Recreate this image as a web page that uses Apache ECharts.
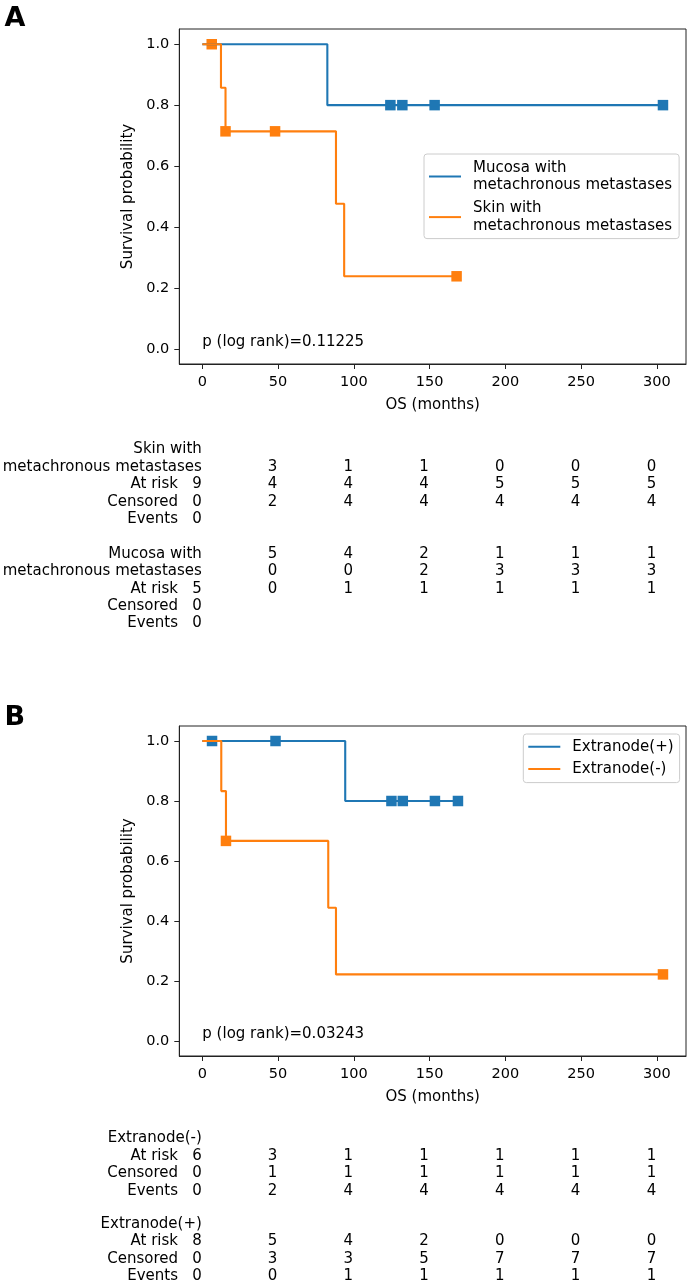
<!DOCTYPE html>
<html><head><meta charset="utf-8">
<script src="https://cdn.jsdelivr.net/npm/echarts@6/dist/echarts.min.js"></script>
<style>html,body{margin:0;padding:0;background:#fff}#c{width:691px;height:1284px}</style>
</head><body><div id="c"></div><script>
// ---------------- data ----------------
const xTicks = [0, 50, 100, 150, 200, 250, 300];
const yTicks = [0, 0.2, 0.4, 0.6, 0.8, 1.0];

// Panel A
const aMucosaName = 'Mucosa with\nmetachronous metastases';
const aMucosaT = [0, 82.5, 304];
const aMucosaS = [1.0, 0.8, 0.8];
const aMucosaCensT = [124.1, 132.0, 153.3, 304];
const aMucosaCensS = [0.8, 0.8, 0.8, 0.8];

const aSkinName = 'Skin with\nmetachronous metastases';
const aSkinT = [0, 12.3, 15.3, 88.2, 93.6, 167.8];
const aSkinS = [1.0, 0.857, 0.714, 0.476, 0.238, 0.238];
const aSkinCensT = [6.2, 15.3, 48.0, 167.8];
const aSkinCensS = [1.0, 0.714, 0.714, 0.238];

const aPText = 'p (log rank)=0.11225';

// Panel B
const bPlusName = 'Extranode(+)';
const bPlusT = [0, 94.3, 168.7];
const bPlusS = [1.0, 0.8, 0.8];
const bPlusCensT = [6.4, 48.3, 124.8, 132.3, 153.5, 168.7];
const bPlusCensS = [1.0, 1.0, 0.8, 0.8, 0.8, 0.8];

const bMinusName = 'Extranode(-)';
const bMinusT = [0, 12.5, 15.6, 83.1, 88.2, 304];
const bMinusS = [1.0, 0.833, 0.667, 0.444, 0.222, 0.222];
const bMinusCensT = [15.6, 304];
const bMinusCensS = [0.667, 0.222];

const bPText = 'p (log rank)=0.03243';

// At-risk tables (as printed: row label, value at 0, values at 50..300)
const tableCols = [50, 100, 150, 200, 250, 300];
const tA1Labels = ['Skin with', 'metachronous metastases', 'At risk', 'Censored', 'Events'];
const tA1First  = ['', '', '9', '0', '0'];
const tA1Vals   = [null, [3,1,1,0,0,0], [4,4,4,5,5,5], [2,4,4,4,4,4], null];
const tA2Labels = ['Mucosa with', 'metachronous metastases', 'At risk', 'Censored', 'Events'];
const tA2First  = ['', '', '5', '0', '0'];
const tA2Vals   = [[5,4,2,1,1,1], [0,0,2,3,3,3], [0,1,1,1,1,1], null, null];

const tB1Labels = ['Extranode(-)', 'At risk', 'Censored', 'Events'];
const tB1First  = ['', '6', '0', '0'];
const tB1Vals   = [null, [3,1,1,1,1,1], [1,1,1,1,1,1], [2,4,4,4,4,4]];
const tB2Labels = ['Extranode(+)', 'At risk', 'Censored', 'Events'];
const tB2First  = ['', '8', '0', '0'];
const tB2Vals   = [null, [5,4,2,0,0,0], [3,3,5,7,7,7], [0,1,1,1,1,1]];

// ---------------- chart ----------------
const FONT = 'DejaVu Sans';
const BLUE = '#1f77b4', ORANGE = '#ff7f0e', AX = '#222';
const zip = (t, s) => t.map((v, i) => [v, s[i]]);

const chart = echarts.init(document.getElementById('c'), null, {renderer: 'canvas'});

function xAxisDef(gi) {
  return {
    type: 'value', gridIndex: gi, min: -15.2, max: 319.2, position: 'bottom',
    name: 'OS (months)', nameLocation: 'middle', nameGap: 34,
    nameTextStyle: {fontFamily: FONT, fontSize: 15, color: '#000'},
    axisLine: {show: true, onZero: false, lineStyle: {color: AX, width: 1}},
    axisTick: {show: true, length: 5, lineStyle: {color: AX, width: 1}, customValues: xTicks},
    axisLabel: {fontFamily: FONT, fontSize: 14.5, color: '#000', margin: 11, customValues: xTicks},
    splitLine: {show: false}
  };
}
function yAxisDef(gi) {
  return {
    type: 'value', gridIndex: gi, min: -0.05, max: 1.05, position: 'left',
    name: 'Survival probability', nameLocation: 'middle', nameGap: 38.5,
    nameTextStyle: {fontFamily: FONT, fontSize: 15, color: '#000'},
    axisLine: {show: true, onZero: false, lineStyle: {color: AX, width: 1}},
    axisTick: {show: true, length: 5, lineStyle: {color: AX, width: 1}, customValues: yTicks},
    axisLabel: {fontFamily: FONT, fontSize: 14.5, color: '#000', margin: 10, customValues: yTicks,
      formatter: v => Number(v).toFixed(1)},
    splitLine: {show: false}
  };
}
function lineSeries(name, t, s, color, gi) {
  return {type: 'line', name, xAxisIndex: gi, yAxisIndex: gi, data: zip(t, s), step: 'end',
    showSymbol: false, symbol: 'none', color, lineStyle: {color, width: 2.1}, silent: true};
}
function censSeries(name, t, s, color, gi) {
  return {type: 'scatter', name, xAxisIndex: gi, yAxisIndex: gi, data: zip(t, s),
    symbol: 'rect', symbolSize: 10.5, itemStyle: {color, opacity: 1}, silent: true};
}
function legendDef(names, left, top, padding, itemGap, lh) {
  return {
    data: names, orient: 'vertical', left, top, padding, itemGap,
    itemWidth: 32, itemHeight: 2, icon: 'rect', selectedMode: false,
    backgroundColor: 'rgba(255,255,255,0.8)', borderColor: '#cccccc', borderWidth: 1, borderRadius: 3,
    textStyle: {fontFamily: FONT, fontSize: 15, color: '#000', lineHeight: lh, padding: [0, 0, 0, 7]}
  };
}

chart.setOption({
  animation: false,
  grid: [
    {left: 179.3, top: 29, width: 506.7, height: 335, show: true, borderColor: AX, borderWidth: 1, backgroundColor: 'transparent'},
    {left: 179.3, top: 726, width: 506.7, height: 330, show: true, borderColor: AX, borderWidth: 1, backgroundColor: 'transparent'}
  ],
  xAxis: [xAxisDef(0), xAxisDef(1)],
  yAxis: [yAxisDef(0), yAxisDef(1)],
  legend: [
    legendDef([aMucosaName, aSkinName], 424, 154, [5, 7, 4, 5], 5.6, 17.5),
    legendDef([bPlusName, bMinusName], 523.3, 734, [4, 6, 5, 5], 5, 17.3)
  ],
  series: [
    lineSeries(aMucosaName, aMucosaT, aMucosaS, BLUE, 0),
    censSeries('A mucosa censored', aMucosaCensT, aMucosaCensS, BLUE, 0),
    lineSeries(aSkinName, aSkinT, aSkinS, ORANGE, 0),
    censSeries('A skin censored', aSkinCensT, aSkinCensS, ORANGE, 0),
    lineSeries(bPlusName, bPlusT, bPlusS, BLUE, 1),
    censSeries('B plus censored', bPlusCensT, bPlusCensS, BLUE, 1),
    lineSeries(bMinusName, bMinusT, bMinusS, ORANGE, 1),
    censSeries('B minus censored', bMinusCensT, bMinusCensS, ORANGE, 1)
  ]
});

// ---------------- texts placed through the axes ----------------
const g = [];
const txt = (x, y, text, align, extra) => g.push({type: 'text', x, y,
  style: Object.assign({text, fill: '#000', font: '15px "' + FONT + '"', textAlign: align, textVerticalAlign: 'middle'}, extra || {})});

// panel letters
g.push({type: 'text', x: 4.5, y: 18.5, style: {text: 'A', fill: '#000', font: 'bold 27px "DejaVu Sans"', textAlign: 'left', textVerticalAlign: 'middle'}});
g.push({type: 'text', x: 4.5, y: 717.5, style: {text: 'B', fill: '#000', font: 'bold 27px "DejaVu Sans"', textAlign: 'left', textVerticalAlign: 'middle'}});

// p-values
const pA = chart.convertToPixel({gridIndex: 0}, [0, 0]);
const pB = chart.convertToPixel({gridIndex: 1}, [0, 0]);
txt(pA[0], pA[1] - 6.5, aPText, 'left');
txt(pB[0], pB[1] - 6.5, bPText, 'left');

function table(gi, labels, first, vals, y0, step) {
  const x0 = chart.convertToPixel({xAxisIndex: gi}, 0);
  labels.forEach((lab, i) => {
    const y = y0 + i * step;
    if (first[i] === '') {
      txt(x0 - 0.5, y, lab, 'right');
    } else {
      txt(x0 - 24.3, y, lab, 'right');
      txt(x0 - 0.5, y, first[i], 'right');
    }
    if (vals[i]) {
      vals[i].forEach((v, j) => {
        const xp = chart.convertToPixel({xAxisIndex: gi}, tableCols[j]);
        txt(xp - 5.5, y, String(v), 'center');
      });
    }
  });
}
table(0, tA1Labels, tA1First, tA1Vals, 449.5, 17.4);
table(0, tA2Labels, tA2First, tA2Vals, 554, 17.4);
table(1, tB1Labels, tB1First, tB1Vals, 1138.3, 17.6);
table(1, tB2Labels, tB2First, tB2Vals, 1223.8, 17.6);

chart.setOption({graphic: g});
</script></body></html>
